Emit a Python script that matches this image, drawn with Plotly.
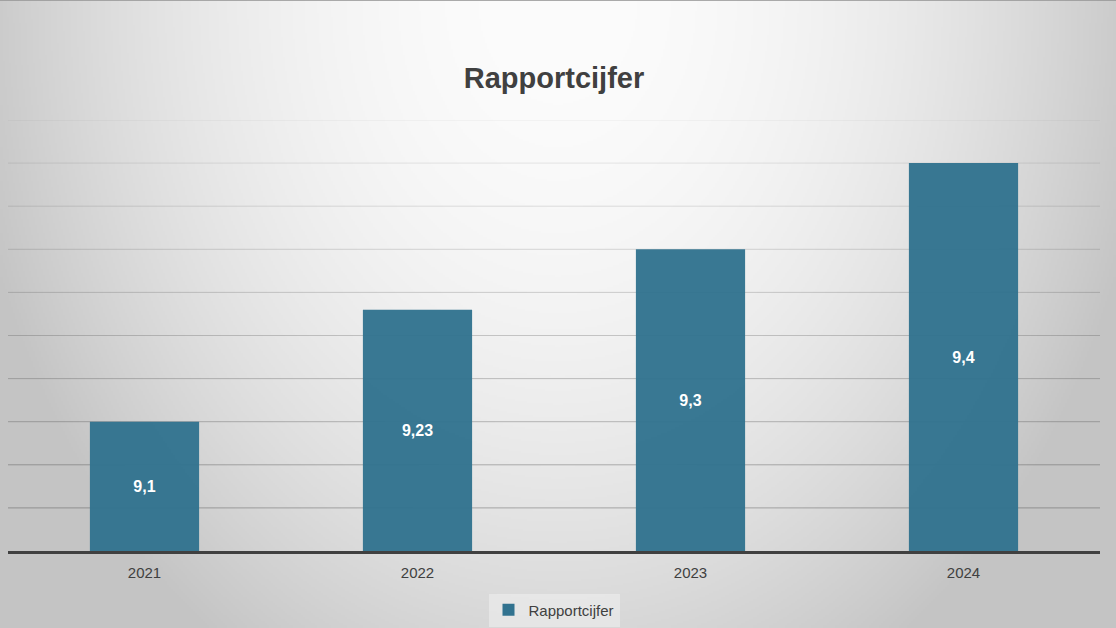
import base64, struct, zlib
import numpy as np
import plotly.graph_objects as go

# ---- data ----
years = ["2021", "2022", "2023", "2024"]
scores = [9.1, 9.23, 9.3, 9.4]
series_name = "Rapportcijfer"
y_min, y_max, y_step = 8.95, 9.45, 0.05

W, H = 1116, 628

# ---- background: radial grey gradient as an inline PNG ----
def png_data_uri(arr):
    h, w = arr.shape
    raw = b"".join(b"\x00" + bytes(arr[r].tolist()) for r in range(h))
    def chunk(tag, data):
        c = struct.pack(">I", len(data)) + tag + data
        return c + struct.pack(">I", zlib.crc32(tag + data) & 0xFFFFFFFF)
    png = b"\x89PNG\r\n\x1a\n" + chunk(b"IHDR", struct.pack(">IIBBBBB", w, h, 8, 0, 0, 0, 0))
    png += chunk(b"IDAT", zlib.compress(raw, 9)) + chunk(b"IEND", b"")
    return "data:image/png;base64," + base64.b64encode(png).decode()

gw, gh = 558, 314
xx, yy = np.meshgrid(np.linspace(0, W, gw), np.linspace(0, H, gh))
d2 = ((xx - W / 2) / 558.0) ** 2 + 0.75 * (yy / 628.0) ** 2
bg = np.clip(252 - 48 * d2, 196, 255).astype(np.uint8)
bg_uri = png_data_uri(bg)

bar_color = "#31728F"
text_color = "#404040"
font = "Liberation Sans, Arial, sans-serif"

fig = go.Figure()
fig.add_trace(go.Bar(
    x=years, y=[v - y_min for v in scores], base=[y_min] * len(scores), name=series_name,
    marker=dict(color=bar_color, opacity=0.96, line=dict(width=0)),
    text=[f"{v:g}".replace(".", ",") for v in scores],
    textposition="inside", insidetextanchor="middle",
    textfont=dict(color="white", size=16, family=font, weight="bold"),
    hoverinfo="skip",
))

# gridlines with a light-to-dark tint from top to bottom
n = int(round((y_max - y_min) / y_step))
shapes = []
for i in range(1, n + 1):
    yv = y_min + i * y_step
    t = (yv - y_min) / (y_max - y_min)
    a = 0.42 - 0.34 * t
    shapes.append(dict(type="line", xref="paper", yref="y", x0=0, x1=1, y0=yv, y1=yv,
                       line=dict(color=f"rgba(60,60,60,{a:.3f})", width=1), layer="below"))
# thin border line along the top edge of the chart area
shapes.append(dict(type="line", xref="paper", yref="paper", x0=-8 / 1092, x1=1 + 16 / 1092,
                   y0=1 + 119.5 / 431, y1=1 + 119.5 / 431,
                   line=dict(color="rgba(150,150,150,0.8)", width=1)))

fig.update_layout(
    width=W, height=H,
    margin=dict(l=8, r=16, t=120, b=77, autoexpand=False),
    paper_bgcolor="rgba(0,0,0,0)", plot_bgcolor="rgba(0,0,0,0)",
    images=[dict(source=bg_uri, xref="paper", yref="paper", x=-8 / 1092, y=1 + 120 / 431,
                 sizex=W / 1092, sizey=H / 431, sizing="stretch", layer="below",
                 xanchor="left", yanchor="top")],
    shapes=shapes,
    title=dict(text="<b>Rapportcijfer</b>", x=554 / W, xanchor="center", y=1 - 78 / H,
               yanchor="middle", font=dict(size=29, color=text_color, family=font)),
    bargap=0.6,
    showlegend=True,
    legend=dict(orientation="h", x=0.5, xanchor="center", y=-59 / 431, yanchor="middle",
                bgcolor="rgba(240,240,240,0.55)", font=dict(size=15, color=text_color, family=font),
                itemwidth=30),
    xaxis=dict(showgrid=False, showline=True, linecolor=text_color, linewidth=3,
               ticks="outside", ticklen=6, tickcolor="rgba(0,0,0,0)", automargin=False,
               tickfont=dict(size=15, color=text_color, family=font)),
    yaxis=dict(range=[y_min, y_max], showgrid=False, zeroline=False, showticklabels=False,
               showline=False, automargin=False),
)

fig.write_html("out.html", config={"displayModeBar": False})
with open("out.html", encoding="utf-8") as f:
    html = f.read()
html = html.replace("<body>", '<body style="margin:0;padding:0;overflow:hidden">', 1)
with open("out.html", "w", encoding="utf-8") as f:
    f.write(html)
